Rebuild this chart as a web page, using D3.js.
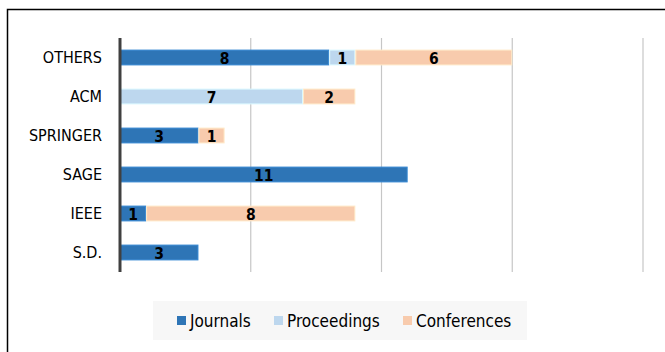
<!DOCTYPE html>
<html><head><meta charset="utf-8">
<script src="https://cdn.jsdelivr.net/npm/d3@7"></script>
<style>body{margin:0;background:#fff}svg{display:block}</style>
</head><body>
<script>
const categories = ["OTHERS","ACM","SPRINGER","SAGE","IEEE","S.D."];
const seriesNames = ["Journals","Proceedings","Conferences"];
const journals    = [8,0,3,11,1,3];
const proceedings = [1,7,0,0,0,0];
const conferences = [6,2,1,0,8,0];
const xTicks = [0,5,10,15,20];
const colors = ["#2E75B6","#BDD7EE","#F8CBAD"];

const W=665,H=352;
const svg=d3.select("body").append("svg").attr("width",W).attr("height",H);
const font="'DejaVu Sans Condensed', 'Open Sans', sans-serif";
const bfont="'DejaVu Sans Condensed', Lato, sans-serif";

svg.append("rect").attr("x",7.5).attr("y",9.5).attr("width",W+10).attr("height",H+10)
  .attr("fill","#fff").attr("stroke","#000").attr("stroke-width",1.5);

const x=d3.scaleLinear().domain([0,20]).range([120,643]);
const y=d3.scaleBand().domain(categories).range([38,272]).paddingInner(0.62).paddingOuter(0.31);

svg.append("g").selectAll("line").data(xTicks.slice(1)).join("line")
  .attr("x1",d=>x(d)).attr("x2",d=>x(d)).attr("y1",38).attr("y2",272)
  .attr("stroke","#c6c6c6").attr("stroke-width",1.2);

const table=categories.map((c,i)=>({cat:c,Journals:journals[i],Proceedings:proceedings[i],Conferences:conferences[i]}));
const stack=d3.stack().keys(seriesNames)(table);

const g=svg.append("g");
stack.forEach((s,si)=>{
  s.forEach(d=>{
    const v=d[1]-d[0];
    if(v<=0) return;
    g.append("rect").attr("x",x(d[0])+0.5).attr("y",y(d.data.cat))
      .attr("width",x(d[1])-x(d[0])-1).attr("height",y.bandwidth())
      .attr("fill",colors[si]).attr("stroke",d3.color(colors[si]).brighter(0.4)).attr("stroke-width",1);
    g.append("text").attr("x",(x(d[0])+x(d[1]))/2).attr("y",y(d.data.cat)+y.bandwidth()/2)
      .attr("dy","0.4em").attr("text-anchor","middle")
      .attr("font-family",bfont).attr("font-weight","bold").attr("font-size",15.5).attr("fill","#000")
      .text(v);
  });
});

svg.append("line").attr("x1",120).attr("x2",120).attr("y1",38).attr("y2",272)
  .attr("stroke","#404040").attr("stroke-width",3);

const yAxis=d3.axisLeft(y).tickSize(0).tickPadding(18);
const ya=svg.append("g").attr("transform","translate(120,0)").call(yAxis);
ya.select(".domain").remove();
ya.selectAll("text").attr("font-family",font).attr("font-size",16).attr("fill","#000").attr("dy","0.36em");

svg.append("rect").attr("x",153).attr("y",301).attr("width",374).attr("height",39).attr("fill","#f7f7f7");
const lx=[177,274,403];
seriesNames.forEach((n,i)=>{
  svg.append("rect").attr("x",lx[i]).attr("y",316).attr("width",9).attr("height",9).attr("fill",colors[i]);
  svg.append("text").attr("x",lx[i]+13).attr("y",320.5).attr("dy","0.36em")
    .attr("font-family",font).attr("font-size",17).attr("fill","#000").text(n);
});
</script>
</body></html>
